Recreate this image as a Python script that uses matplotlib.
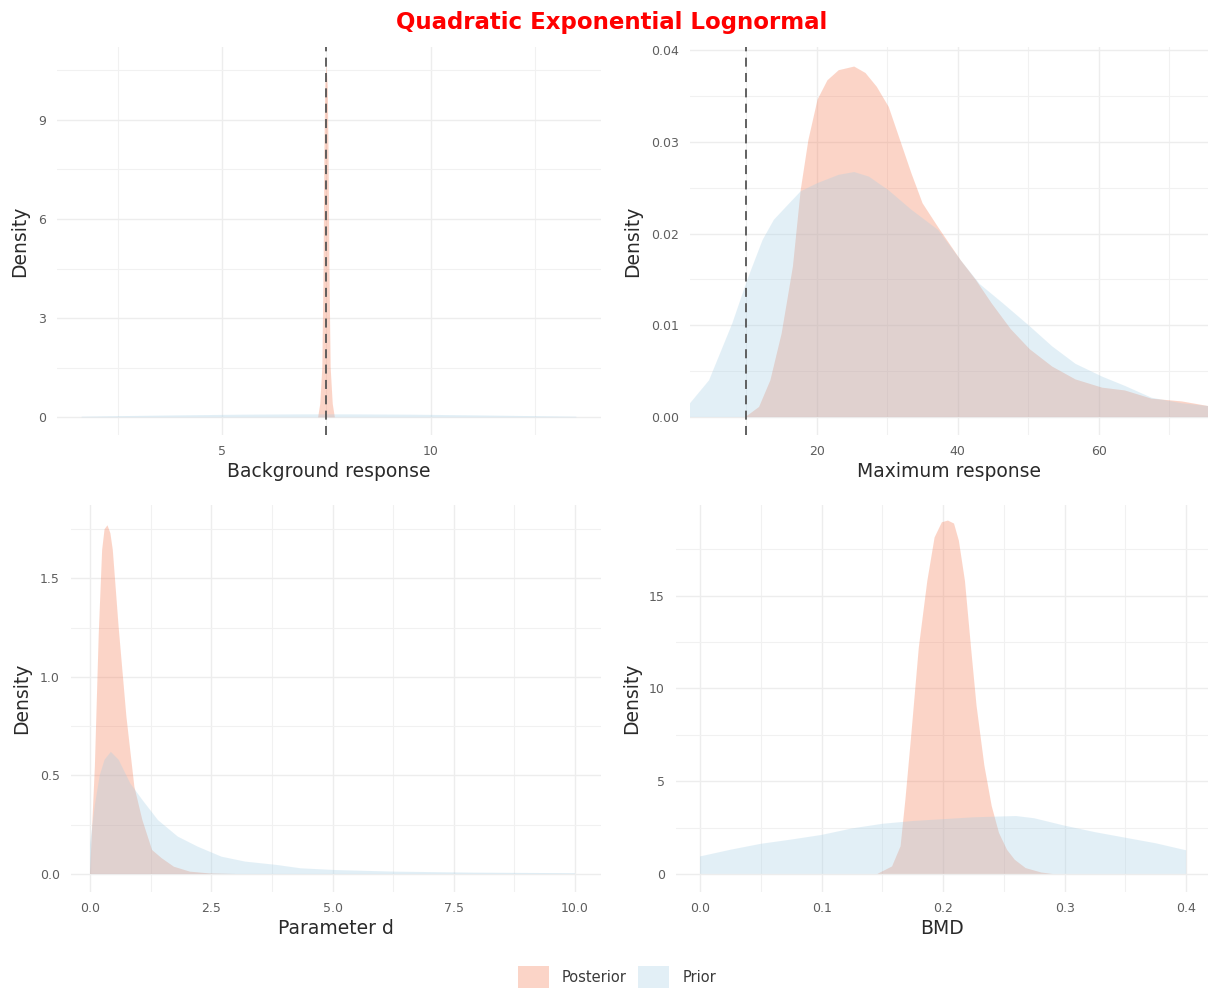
import matplotlib
matplotlib.use("Agg")
import matplotlib.pyplot as plt
from matplotlib.ticker import MultipleLocator, FuncFormatter
from matplotlib.patches import Patch

plt.rcParams['font.family'] = ['DejaVu Sans']

TITLE = "Quadratic Exponential Lognormal"
SERIES = ["Posterior", "Prior"]

# ---- Panel 1: Background response ----
bg_post_x = [7.30, 7.35, 7.40, 7.43, 7.45, 7.47, 7.50, 7.53, 7.55, 7.57, 7.60, 7.65, 7.70]
bg_post_y = [0.0, 0.4, 1.5, 4.5, 8.0, 10.0, 10.7, 10.0, 8.0, 4.5, 1.5, 0.4, 0.0]
bg_prior_x = [1.64, 2.5, 4.0, 5.5, 7.0, 7.5, 8.0, 9.5, 11.0, 12.5, 13.48]
bg_prior_y = [0.02, 0.035, 0.06, 0.08, 0.09, 0.09, 0.09, 0.08, 0.06, 0.035, 0.02]
bg_vline = 7.5

# ---- Panel 2: Maximum response ----
mx_post_x = [9.86, 11.8, 13.4, 15.0, 16.6, 17.7, 18.8, 20.1, 21.5, 23.1, 25.3, 26.9, 28.5,
             30.2, 31.8, 33.4, 35.0, 37.2, 38.8, 40.4, 42.6, 44.8, 47.5, 50.2, 53.4, 56.7,
             60.5, 63.7, 67.5, 71.8, 75.5]
mx_post_y = [0.0, 0.0011, 0.0040, 0.0091, 0.0164, 0.0247, 0.0302, 0.0346, 0.0367, 0.0378,
             0.0382, 0.0375, 0.0360, 0.0338, 0.0302, 0.0266, 0.0233, 0.0207, 0.0189, 0.0171,
             0.0149, 0.0124, 0.0096, 0.0074, 0.0055, 0.0041, 0.0032, 0.0029, 0.0020, 0.0017,
             0.0012]
mx_prior_x = [2.0, 4.7, 8.0, 10.1, 12.3, 13.9, 16.1, 17.7, 20.1, 23.1, 25.3, 27.4, 30.2,
              33.4, 37.2, 40.4, 43.1, 46.4, 50.2, 53.4, 56.7, 60.5, 63.7, 67.5, 71.8, 75.5]
mx_prior_y = [0.0015, 0.0040, 0.0102, 0.0149, 0.0193, 0.0215, 0.0233, 0.0246, 0.0255,
              0.0264, 0.0267, 0.0262, 0.0247, 0.0226, 0.0204, 0.0171, 0.0145, 0.0124,
              0.0099, 0.0077, 0.0058, 0.0044, 0.0034, 0.0021, 0.0015, 0.0012]
mx_vline = 10.0

# ---- Panel 3: Parameter d ----
d_post_x = [0.0, 0.10, 0.18, 0.25, 0.30, 0.36, 0.42, 0.47, 0.59, 0.75, 0.915, 1.08, 1.28,
            1.48, 1.73, 2.06, 2.46, 3.0]
d_post_y = [0.0, 0.545, 1.22, 1.645, 1.75, 1.77, 1.73, 1.645, 1.255, 0.80, 0.443, 0.274,
            0.122, 0.08, 0.037, 0.012, 0.003, 0.0]
d_prior_x = [0.0, 0.1, 0.2, 0.3, 0.43, 0.59, 0.83, 1.08, 1.4, 1.81, 2.22, 2.71, 3.2, 3.85,
             4.34, 5.07, 6.29, 7.92, 10.0]
d_prior_y = [0.15, 0.35, 0.50, 0.58, 0.62, 0.58, 0.46, 0.376, 0.274, 0.19, 0.139, 0.088,
             0.063, 0.046, 0.029, 0.02, 0.012, 0.007, 0.004]

# ---- Panel 4: BMD ----
bmd_post_x = [0.146, 0.158, 0.165, 0.169, 0.174, 0.180, 0.187, 0.193, 0.199, 0.204, 0.209,
              0.213, 0.218, 0.223, 0.2275, 0.234, 0.240, 0.246, 0.2526, 0.259, 0.268,
              0.281, 0.290]
bmd_post_y = [0.0, 0.40, 1.49, 4.02, 7.64, 12.2, 15.8, 18.15, 18.97, 19.06, 18.9, 17.97,
              15.8, 12.2, 9.09, 5.83, 3.66, 2.21, 1.30, 0.76, 0.31, 0.07, 0.0]
bmd_prior_x = [0.0, 0.025, 0.05, 0.075, 0.1, 0.125, 0.15, 0.175, 0.2, 0.225, 0.25, 0.26,
               0.275, 0.3, 0.325, 0.35, 0.375, 0.4]
bmd_prior_y = [0.94, 1.3, 1.62, 1.85, 2.1, 2.45, 2.7, 2.85, 2.95, 3.05, 3.1, 3.12, 3.0,
               2.6, 2.25, 1.95, 1.65, 1.27]

POST_COLOR = "#F57348"
PRIOR_COLOR = "#A2CDE4"
ALPHA = 0.3
GRID_MAJOR = "#EDEDED"
GRID_MINOR = "#F1F1F1"

W, H = 1208, 990
fig = plt.figure(figsize=(W / 100, H / 100), dpi=100)


def px_axes(l, t, r, b):
    return fig.add_axes([l / W, 1 - b / H, (r - l) / W, (b - t) / H])


panels = [
    dict(box=(57, 47, 601, 435), xlim=(1.05, 14.07), ylim=(-0.535, 11.2),
         xmaj=5, xmin=2.5, ymaj=3, ymin=1.5, xlabel="Background response",
         post=(bg_post_x, bg_post_y), prior=(bg_prior_x, bg_prior_y), vline=bg_vline,
         xfmt=lambda v: f"{v:g}", yfmt=lambda v: f"{v:g}"),
    dict(box=(690, 47, 1208, 435), xlim=(2.0, 75.5), ylim=(-0.00196, 0.04033),
         xmaj=20, xmin=10, ymaj=0.01, ymin=0.005, xlabel="Maximum response",
         post=(mx_post_x, mx_post_y), prior=(mx_prior_x, mx_prior_y), vline=mx_vline,
         xfmt=lambda v: f"{v:g}", yfmt=lambda v: f"{v:.2f}"),
    dict(box=(71, 505, 601, 892), xlim=(-0.392, 10.536), ylim=(-0.0914, 1.873),
         xmaj=2.5, xmin=1.25, ymaj=0.5, ymin=0.25, xlabel="Parameter d",
         post=(d_post_x, d_post_y), prior=(d_prior_x, d_prior_y), vline=None,
         xfmt=lambda v: f"{v:.1f}", yfmt=lambda v: f"{v:.1f}"),
    dict(box=(676, 505, 1208, 892), xlim=(-0.0198, 0.418), ylim=(-0.98, 19.9),
         xmaj=0.1, xmin=0.05, ymaj=5, ymin=2.5, xlabel="BMD",
         post=(bmd_post_x, bmd_post_y), prior=(bmd_prior_x, bmd_prior_y), vline=None,
         xfmt=lambda v: f"{v:.1f}", yfmt=lambda v: f"{v:g}"),
]

for p in panels:
    ax = px_axes(*p["box"])
    ax.set_xlim(*p["xlim"])
    ax.set_ylim(*p["ylim"])
    for s in ax.spines.values():
        s.set_visible(False)
    ax.xaxis.set_major_locator(MultipleLocator(p["xmaj"]))
    ax.xaxis.set_minor_locator(MultipleLocator(p["xmin"]))
    ax.yaxis.set_major_locator(MultipleLocator(p["ymaj"]))
    ax.yaxis.set_minor_locator(MultipleLocator(p["ymin"]))
    fx, fy = p["xfmt"], p["yfmt"]
    ax.xaxis.set_major_formatter(FuncFormatter(lambda v, pos, f=fx: f(round(v, 6))))
    ax.yaxis.set_major_formatter(FuncFormatter(lambda v, pos, f=fy: f(round(v, 6))))
    ax.set_axisbelow(True)
    ax.grid(which="major", color=GRID_MAJOR, linewidth=1.0)
    ax.grid(which="minor", color=GRID_MINOR, linewidth=0.8)
    ax.tick_params(which="both", length=0)
    ax.tick_params(axis="x", which="major", pad=7, labelsize=9, labelcolor="#5E5E5E")
    ax.tick_params(axis="y", which="major", pad=8, labelsize=9, labelcolor="#5E5E5E")
    ax.set_xlabel(p["xlabel"], fontsize=13.5, color="#2A2A2A", labelpad=3)
    ax.set_ylabel("Density", fontsize=13.5, color="#2A2A2A", labelpad=6)
    px, py = p["post"]
    ax.fill_between(px, 0, py, facecolor=POST_COLOR, alpha=ALPHA, linewidth=0)
    qx, qy = p["prior"]
    ax.fill_between(qx, 0, qy, facecolor=PRIOR_COLOR, alpha=ALPHA, linewidth=0)
    if p["vline"] is not None:
        ax.axvline(p["vline"], color="#555555", linewidth=1.3, linestyle=(0, (5, 3.5)))

fig.text(612 / W, 1 - 22 / H, TITLE, ha="center", va="center", color="#FF0000",
         fontsize=16.5, fontweight="bold")

handles = [Patch(facecolor=POST_COLOR, alpha=ALPHA, linewidth=0),
           Patch(facecolor=PRIOR_COLOR, alpha=ALPHA, linewidth=0)]
fig.legend(handles, SERIES, loc="center", bbox_to_anchor=(617 / W, 1 - 977 / H),
           ncol=2, frameon=False, fontsize=10.5, handlelength=2.1, handleheight=1.9,
           handletextpad=0.9, columnspacing=0.8, labelcolor="#3A3A3A")

fig.savefig("out.png", dpi=100)
